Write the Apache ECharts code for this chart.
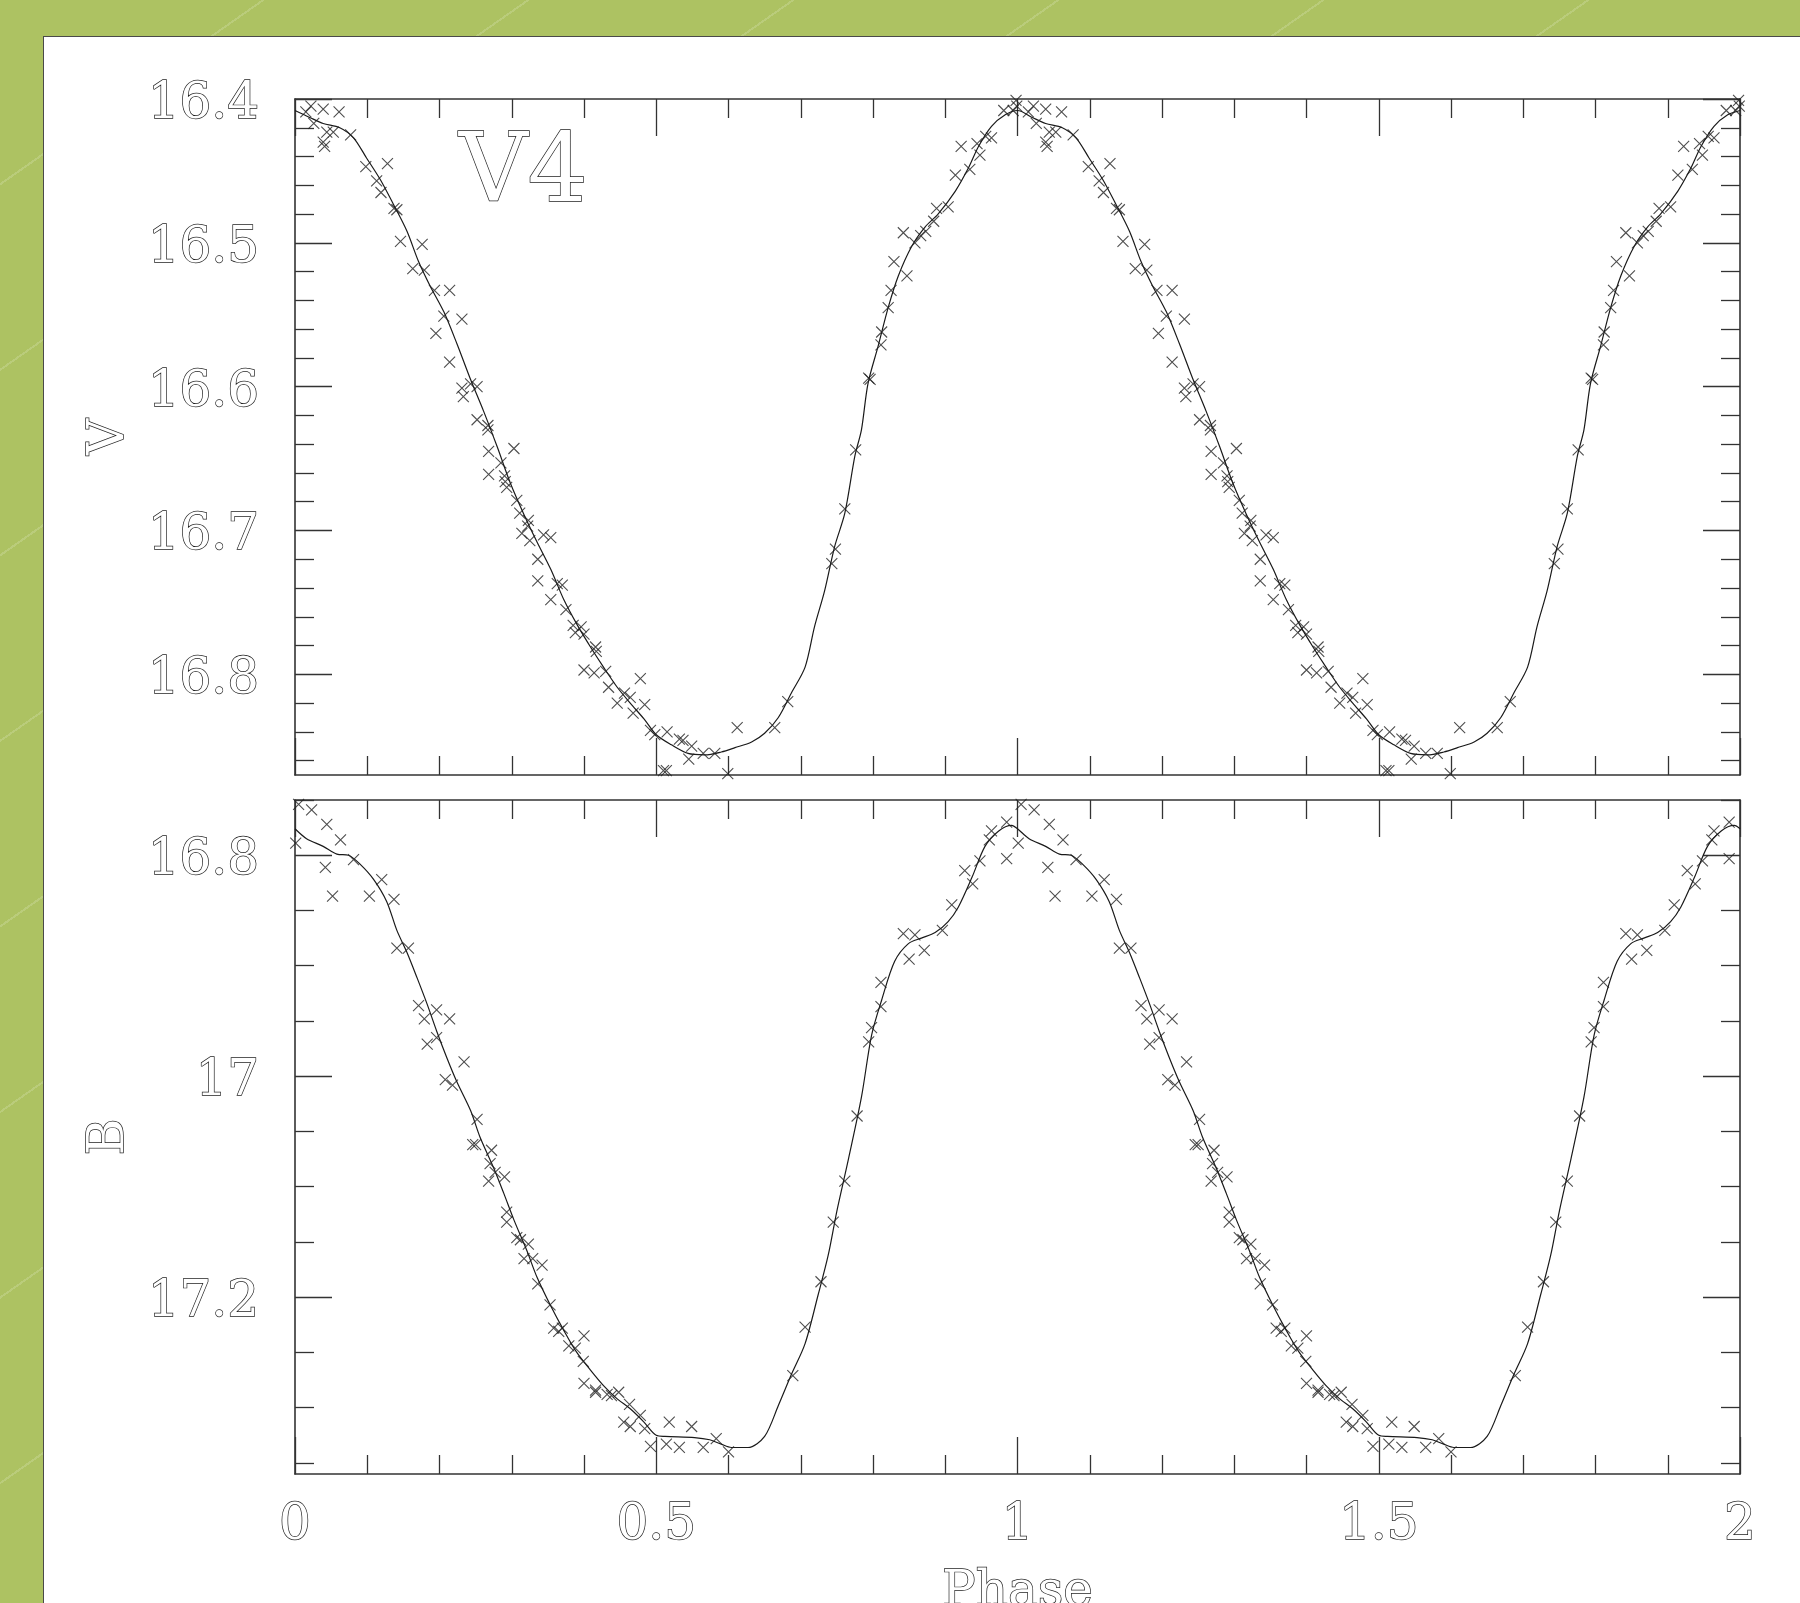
<!DOCTYPE html>
<html><head><meta charset="utf-8">
<script src="https://cdn.jsdelivr.net/npm/echarts@6/dist/echarts.min.js"></script>
<style>
html,body{margin:0;padding:0;width:1800px;height:1603px;overflow:hidden;}
body{background-color:#adc262;background-image:repeating-linear-gradient(145deg, rgba(255,255,255,0) 0px, rgba(255,255,255,0) 150px, rgba(255,255,255,0.16) 150px, rgba(255,255,255,0.16) 152px);}
#panel{position:absolute;left:43px;top:36px;width:1800px;height:1600px;background:#fff;border-left:1.5px solid #4a4a4a;border-top:1.5px solid #4a4a4a;}
#chart{position:absolute;left:0;top:0;width:1800px;height:1603px;}
</style></head>
<body>
<div id="panel"></div>
<div id="chart"></div>
<script>
// ---- data (one pulsation cycle, phase 0..1; the plot shows it twice) ----
const phaseV = [0.022,0.015,0.039,0.061,0.026,0.044,0.053,0.039,0.041,0.077,
0.098,0.128,0.113,0.119,0.137,0.141,0.146,0.176,0.163,0.179,
0.193,0.214,0.206,0.231,0.195,0.214,0.231,0.243,0.252,0.233,
0.252,0.267,0.267,0.268,0.303,0.285,0.268,0.290,0.291,0.293,
0.307,0.311,0.323,0.322,0.314,0.325,0.344,0.354,0.336,0.336,
0.363,0.370,0.354,0.375,0.385,0.396,0.388,0.400,0.416,0.417,
0.400,0.414,0.430,0.434,0.446,0.456,0.464,0.478,0.484,0.468,
0.492,0.498,0.515,
0.532,0.537,0.549,0.545,0.565,0.581,0.612,0.510,0.514,0.599,
0.664,0.682,0.743,0.748,0.761,0.776,0.794,0.796,0.811,0.812,
0.821,0.825,0.829,0.847,0.842,0.858,0.866,0.873,0.884,0.888,
0.904,0.914,0.922,0.934,0.944,0.948,0.956,0.964,0.981,0.994,
0.999,0.998];
const magV = [16.405,16.409,16.407,16.409,16.417,16.423,16.423,16.430,16.433,16.425,
16.447,16.445,16.457,16.465,16.476,16.477,16.499,16.501,16.518,16.519,
16.533,16.533,16.551,16.553,16.563,16.583,16.601,16.598,16.600,16.607,
16.623,16.627,16.630,16.645,16.643,16.653,16.661,16.662,16.666,16.670,
16.679,16.688,16.693,16.697,16.702,16.707,16.703,16.705,16.720,16.735,
16.737,16.738,16.748,16.755,16.766,16.767,16.771,16.772,16.781,16.784,
16.797,16.799,16.798,16.809,16.820,16.813,16.816,16.803,16.821,16.827,
16.839,16.842,16.840,
16.845,16.846,16.850,16.859,16.855,16.855,16.837,16.867,16.867,16.869,
16.837,16.819,16.723,16.713,16.685,16.644,16.594,16.595,16.571,16.562,
16.545,16.533,16.513,16.523,16.493,16.500,16.495,16.492,16.485,16.476,
16.475,16.453,16.433,16.449,16.431,16.439,16.426,16.427,16.408,16.408,
16.405,16.401];

const fitPhaseV = [0,0.021,0.039,0.062,0.081,0.099,0.118,0.136,0.155,0.171,0.187,0.206,0.224,0.243,0.261,0.280,0.298,0.317,0.335,0.354,0.372,0.391,0.409,0.427,0.446,0.464,0.483,0.500,0.521,0.544,0.567,0.590,0.609,0.632,0.650,0.669,0.687,0.706,0.719,0.733,0.747,0.761,0.775,0.784,0.793,0.807,0.821,0.835,0.854,0.872,0.890,0.914,0.932,0.946,0.964,0.983,1.0];
const fitV = [16.408,16.413,16.417,16.420,16.427,16.441,16.456,16.473,16.492,16.513,16.530,16.548,16.570,16.595,16.617,16.642,16.667,16.689,16.708,16.727,16.748,16.766,16.781,16.795,16.809,16.820,16.831,16.842,16.849,16.855,16.856,16.854,16.851,16.847,16.841,16.830,16.813,16.795,16.767,16.742,16.711,16.688,16.648,16.630,16.598,16.572,16.545,16.523,16.502,16.489,16.480,16.464,16.448,16.433,16.419,16.411,16.408];

const phaseB = [0.005,0.023,0.001,0.044,0.063,0.042,0.052,0.081,0.103,0.120,
0.137,0.141,0.157,0.171,0.179,0.196,0.214,0.183,0.196,0.234,
0.208,0.218,0.252,0.246,0.250,0.272,0.270,0.277,0.268,0.290,
0.293,0.293,0.307,0.312,0.323,0.317,0.329,0.342,0.336,0.353,
0.358,0.370,0.365,0.379,0.388,0.400,0.399,0.400,0.416,0.416,
0.432,0.438,0.448,0.463,0.455,0.464,0.478,0.484,0.492,0.514,0.518,
0.532,0.549,0.565,0.583,0.600,0.689,0.706,0.728,0.745,0.761,
0.778,0.794,0.798,0.811,0.811,0.842,0.850,0.858,0.871,0.896,
0.909,0.927,0.938,0.948,0.961,0.964,0.985,0.985];
const magB = [16.754,16.759,16.789,16.772,16.786,16.811,16.837,16.804,16.837,16.822,
16.840,16.884,16.884,16.936,16.948,16.940,16.948,16.971,16.965,16.987,
17.003,17.008,17.039,17.062,17.062,17.067,17.079,17.087,17.095,17.091,
17.123,17.132,17.146,17.148,17.152,17.165,17.165,17.171,17.188,17.207,
17.228,17.228,17.231,17.244,17.246,17.235,17.258,17.278,17.284,17.286,
17.288,17.289,17.286,17.297,17.313,17.317,17.307,17.319,17.335,17.333,17.313,
17.336,17.317,17.336,17.328,17.340,17.271,17.227,17.186,17.132,17.095,
17.036,16.969,16.956,16.937,16.915,16.871,16.894,16.872,16.886,16.868,
16.845,16.814,16.826,16.805,16.786,16.778,16.770,16.803];

const fitPhaseB = [0,0.016,0.039,0.058,0.074,0.090,0.109,0.127,0.141,0.155,0.169,0.183,0.196,0.210,0.224,0.243,0.256,0.275,0.289,0.303,0.321,0.335,0.354,0.372,0.390,0.409,0.427,0.446,0.464,0.483,0.500,0.512,0.553,0.574,0.590,0.604,0.627,0.650,0.669,0.687,0.706,0.724,0.738,0.750,0.766,0.784,0.798,0.812,0.830,0.849,0.867,0.886,0.904,0.918,0.937,0.955,0.974,0.992,1.0];
const fitB = [16.776,16.785,16.792,16.799,16.800,16.808,16.822,16.842,16.868,16.888,16.911,16.935,16.959,16.983,17.005,17.031,17.055,17.083,17.106,17.130,17.158,17.182,17.208,17.230,17.250,17.266,17.280,17.292,17.301,17.313,17.325,17.326,17.327,17.329,17.333,17.336,17.336,17.326,17.298,17.270,17.242,17.198,17.162,17.122,17.075,17.019,16.963,16.931,16.896,16.880,16.875,16.870,16.860,16.847,16.820,16.792,16.778,16.773,16.776];

// ---- axes / ticks ----
const xTickLabels = [0, 0.5, 1, 1.5, 2];
const vTickLabels = [16.4, 16.5, 16.6, 16.7, 16.8];
const vMinorTicks = [16.42,16.44,16.46,16.48,16.52,16.54,16.56,16.58,16.62,16.64,16.66,16.68,16.72,16.74,16.76,16.78,16.82,16.84,16.86];
const bTickLabels = [16.8, 17.0, 17.2];
const bMinorTicks = [16.75,16.85,16.9,16.95,17.05,17.1,17.15,17.25,17.3,17.35];
const vRange = [16.4, 16.87];
const bRange = [16.75, 17.36];
const starName = 'V4';

// build the two displayed cycles (phase and phase+1) from the same observations
function twoCycles(ph, mag) {
  const out = [];
  for (let k = 0; k < 2; k++) for (let i = 0; i < ph.length; i++) out.push([ph[i] + k, mag[i]]);
  return out;
}
function twoCyclesLine(ph, mag) {
  const out = [];
  for (let k = 0; k < 2; k++) for (let i = 0; i < ph.length; i++) {
    if (k === 1 && i === 0) continue;
    out.push([ph[i] + k, mag[i]]);
  }
  return out;
}
const fmt = v => String(parseFloat(Number(v).toFixed(2)));

const ink = '#333';
const hollow = {fontFamily:'DejaVu Serif', fontSize:50, lineHeight:50, color:'#ffffff', textBorderColor:'#222', textBorderWidth:1.4};

function xAx(grid, pos, showLabel, name) {
  return {
    type:'value', gridIndex:grid, position:pos, min:0, max:2, interval:0.5,
    axisLine:{show:true, onZero:false, lineStyle:{color:ink, width:1.6}},
    axisTick:{show:true, inside:true, length:37, lineStyle:{color:ink, width:1.3}},
    minorTick:{show:true, splitNumber:5, length:19, lineStyle:{color:ink, width:1.3}},
    splitLine:{show:false}, minorSplitLine:{show:false},
    axisLabel: Object.assign({show:showLabel, margin:27, formatter:fmt}, hollow),
    name: name || '', nameLocation:'middle', nameGap:94,
    nameTextStyle: Object.assign({verticalAlign:'top'}, hollow)
  };
}
function yMajor(grid, pos, range, ticks, showLabel, name) {
  return {
    type:'value', gridIndex:grid, position:pos, min:range[0], max:range[1], inverse:true,
    axisLine:{show:true, onZero:false, lineStyle:{color:ink, width:1.6}},
    axisTick:{show:true, inside:true, length:37, customValues:ticks, lineStyle:{color:ink, width:1.3}},
    splitLine:{show:false},
    axisLabel: Object.assign({show:showLabel, margin:36, customValues:ticks, formatter:fmt}, hollow, {verticalAlign:'top', lineHeight:12}),
    name: name || '', nameLocation:'middle', nameGap:160,
    nameTextStyle: hollow
  };
}
function yMinor(grid, pos, range, ticks) {
  return {
    type:'value', gridIndex:grid, position:pos, min:range[0], max:range[1], inverse:true,
    axisLine:{show:false, onZero:false},
    axisTick:{show:true, inside:true, length:19, customValues:ticks, lineStyle:{color:ink, width:1.3}},
    splitLine:{show:false},
    axisLabel:{show:false, customValues:ticks}
  };
}

const crossPath = 'path://M0,0L10,10M10,0L0,10';
const crossStyle = {color:'rgba(0,0,0,0)', borderColor:'#222', borderWidth:1.1};

const chart = echarts.init(document.getElementById('chart'), null, {renderer:'canvas'});
chart.setOption({
  animation:false,
  backgroundColor:'transparent',
  title:{text:starName, left:459, top:129, padding:0,
    textStyle:{fontFamily:'DejaVu Serif', fontSize:95, lineHeight:95, fontWeight:'normal', color:'#ffffff', textBorderColor:'#222', textBorderWidth:1.4}},
  grid:[
    {left:295, right:60, top:99, height:676, outerBoundsMode:'none', containLabel:false},
    {left:295, right:60, top:800, height:674, outerBoundsMode:'none', containLabel:false}
  ],
  xAxis:[
    xAx(0,'bottom',false), xAx(0,'top',false),
    xAx(1,'bottom',true,'Phase'), xAx(1,'top',false)
  ],
  yAxis:[
    yMajor(0,'left',vRange,vTickLabels,true,'V'), yMinor(0,'left',vRange,vMinorTicks),
    yMajor(0,'right',vRange,vTickLabels,false), yMinor(0,'right',vRange,vMinorTicks),
    yMajor(1,'left',bRange,bTickLabels,true,'B'), yMinor(1,'left',bRange,bMinorTicks),
    yMajor(1,'right',bRange,bTickLabels,false), yMinor(1,'right',bRange,bMinorTicks)
  ],
  series:[
    {type:'line', xAxisIndex:0, yAxisIndex:0, data:twoCyclesLine(fitPhaseV, fitV), showSymbol:false, smooth:0.3,
      lineStyle:{color:'#1a1a1a', width:1.2}, silent:true, z:2},
    {type:'scatter', xAxisIndex:0, yAxisIndex:0, data:twoCycles(phaseV, magV), symbol:crossPath, symbolSize:11,
      itemStyle:crossStyle, silent:true, z:3},
    {type:'line', xAxisIndex:2, yAxisIndex:4, data:twoCyclesLine(fitPhaseB, fitB), showSymbol:false, smooth:0.3,
      lineStyle:{color:'#1a1a1a', width:1.2}, silent:true, z:2},
    {type:'scatter', xAxisIndex:2, yAxisIndex:4, data:twoCycles(phaseB, magB), symbol:crossPath, symbolSize:11,
      itemStyle:crossStyle, silent:true, z:3}
  ]
});
</script>
</body></html>
